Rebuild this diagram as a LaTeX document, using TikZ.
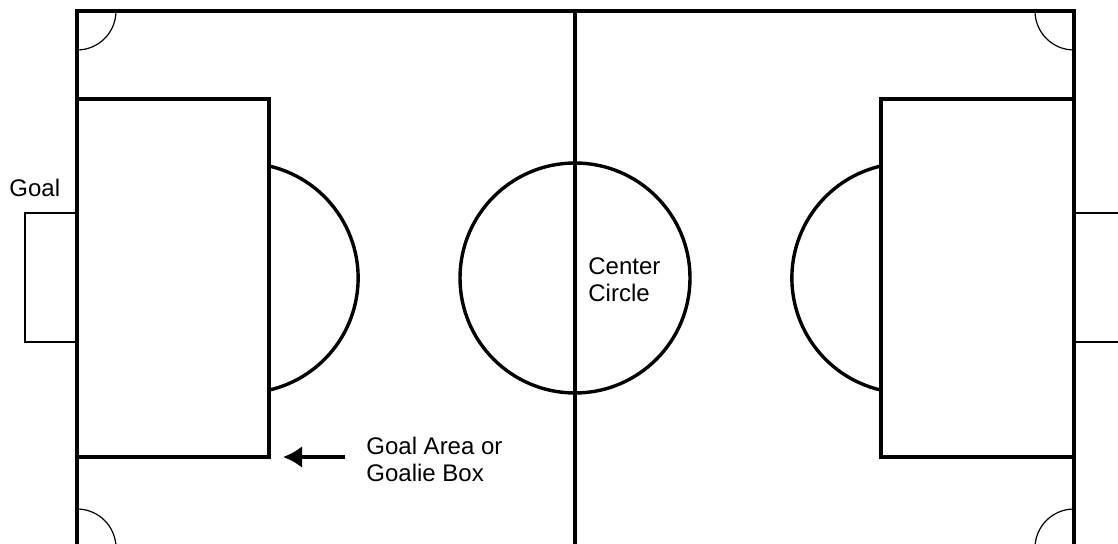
\documentclass[tikz,border=0pt]{standalone}
\usepackage{fontspec}
\setmainfont{Liberation Sans}
\usetikzlibrary{arrows.meta,positioning}

\begin{document}
\begin{tikzpicture}[x=.5pt, y=-.5pt, >={Latex[length=9.5pt,width=11pt]},
  every node/.style={font=\fontsize{12}{13.5}\selectfont, align=left, inner sep=0pt},
  fieldline/.style={line width=2pt}, arcline/.style={line width=1.7pt},
  thinline/.style={line width=.6pt}, pointer/.style={->, line width=2pt}]
  \clip (0,0) rectangle (1118,544);
  \draw[fieldline] (77,11) rectangle (1074,548);
  \draw[fieldline] (575,11) -- (575,548);
  \draw[fieldline] (77,99) -| (269,457) -- (77,457);
  \draw[fieldline] (1074,99) -| (881,457) -- (1074,457);
  \draw[arcline] (575,278) circle[radius=115];
  \draw[arcline] (269,166) arc[start angle=-77, end angle=77, radius=115];
  \draw[arcline] (881,166) arc[start angle=257, end angle=103, radius=115];
  \draw[thinline] (116,11) arc[start angle=0, end angle=90, radius=39];
  \draw[thinline] (1074,50) arc[start angle=90, end angle=180, radius=39];
  \draw[thinline] (77,509) arc[start angle=270, end angle=360, radius=39];
  \draw[thinline] (1035,548) arc[start angle=180, end angle=270, radius=39];
  \draw[thinline] (77,213) -| (25,342) -- (77,342);
  \draw[thinline] (1074,213) -| (1130,342) -- (1074,342);
  \node[anchor=base west] (goal) at (9,197) {Goal};
  \node[anchor=north west] (centre) at (588,257) {Center\\Circle};
  \node[anchor=north west] (area) at (366,437) {Goal Area or\\Goalie Box};
  \coordinate (tip) at (283,457);
  \draw[pointer, shorten <=10.5pt] (area.west |- tip) -- (tip);
\end{tikzpicture}
\end{document}
